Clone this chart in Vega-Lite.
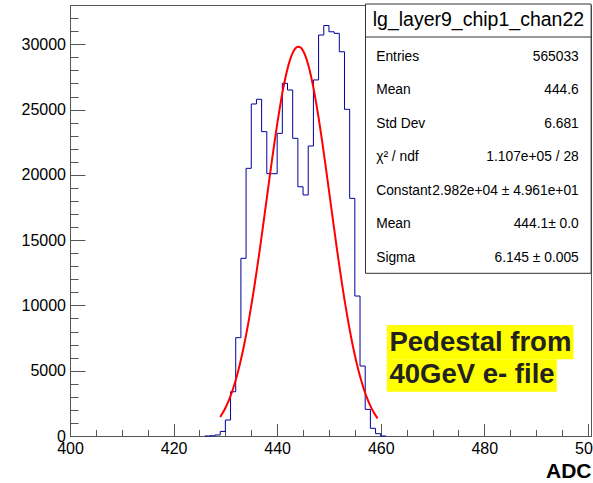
{
  "$schema": "https://vega.github.io/schema/vega-lite/v6.json",
  "width": 521,
  "height": 431,
  "autosize": "none",
  "padding": {"left": 70, "top": 5, "right": 2, "bottom": 47},
  "background": "white",
  "config": {"view": {"stroke": "#555", "strokeWidth": 1}, "font": "Liberation Sans"},
  "resolve": {"axis": {"x": "independent", "y": "independent"}},
  "datasets": {
    "hist": [
      {"adc": 426, "count": 0},
      {"adc": 427, "count": 20}, {"adc": 428, "count": 80}, {"adc": 429, "count": 350},
      {"adc": 430, "count": 1225}, {"adc": 431, "count": 3390}, {"adc": 432, "count": 7530},
      {"adc": 433, "count": 13610}, {"adc": 434, "count": 20500}, {"adc": 435, "count": 25430},
      {"adc": 436, "count": 25790}, {"adc": 437, "count": 23310}, {"adc": 438, "count": 20090},
      {"adc": 439, "count": 20090}, {"adc": 440, "count": 23180}, {"adc": 441, "count": 27010},
      {"adc": 442, "count": 26500}, {"adc": 443, "count": 22800}, {"adc": 444, "count": 19090},
      {"adc": 445, "count": 18460}, {"adc": 446, "count": 22210}, {"adc": 447, "count": 27270},
      {"adc": 448, "count": 30710}, {"adc": 449, "count": 31440}, {"adc": 450, "count": 30960},
      {"adc": 451, "count": 30840}, {"adc": 452, "count": 29430}, {"adc": 453, "count": 25020},
      {"adc": 454, "count": 18200}, {"adc": 455, "count": 10720}, {"adc": 456, "count": 5360},
      {"adc": 457, "count": 2040}, {"adc": 458, "count": 590}, {"adc": 459, "count": 180},
      {"adc": 460, "count": 0}, {"adc": 461, "count": 0}
    ],
    "fit": [
      {"adc": 429.0, "fit": 1456}, {"adc": 429.5, "fit": 1773}, {"adc": 430.0, "fit": 2144},
      {"adc": 430.5, "fit": 2576}, {"adc": 431.0, "fit": 3073}, {"adc": 431.5, "fit": 3643},
      {"adc": 432.0, "fit": 4291}, {"adc": 432.5, "fit": 5020}, {"adc": 433.0, "fit": 5834},
      {"adc": 433.5, "fit": 6735}, {"adc": 434.0, "fit": 7725}, {"adc": 434.5, "fit": 8801},
      {"adc": 435.0, "fit": 9961}, {"adc": 435.5, "fit": 11200}, {"adc": 436.0, "fit": 12509},
      {"adc": 436.5, "fit": 13879}, {"adc": 437.0, "fit": 15297}, {"adc": 437.5, "fit": 16750},
      {"adc": 438.0, "fit": 18219}, {"adc": 438.5, "fit": 19686}, {"adc": 439.0, "fit": 21131},
      {"adc": 439.5, "fit": 22533}, {"adc": 440.0, "fit": 23869}, {"adc": 440.5, "fit": 25118},
      {"adc": 441.0, "fit": 26256}, {"adc": 441.5, "fit": 27267}, {"adc": 442.0, "fit": 28129},
      {"adc": 442.5, "fit": 28826}, {"adc": 443.0, "fit": 29347}, {"adc": 443.5, "fit": 29678},
      {"adc": 444.0, "fit": 29816}, {"adc": 444.5, "fit": 29757}, {"adc": 445.0, "fit": 29502},
      {"adc": 445.5, "fit": 29056}, {"adc": 446.0, "fit": 28428}, {"adc": 446.5, "fit": 27630},
      {"adc": 447.0, "fit": 26678}, {"adc": 447.5, "fit": 25588}, {"adc": 448.0, "fit": 24380},
      {"adc": 448.5, "fit": 23076}, {"adc": 449.0, "fit": 21699}, {"adc": 449.5, "fit": 20269},
      {"adc": 450.0, "fit": 18808}, {"adc": 450.5, "fit": 17336}, {"adc": 451.0, "fit": 15875},
      {"adc": 451.5, "fit": 14441}, {"adc": 452.0, "fit": 13050}, {"adc": 452.5, "fit": 11715},
      {"adc": 453.0, "fit": 10447}, {"adc": 453.5, "fit": 9255}, {"adc": 454.0, "fit": 8145},
      {"adc": 454.5, "fit": 7121}, {"adc": 455.0, "fit": 6184}, {"adc": 455.5, "fit": 5335},
      {"adc": 456.0, "fit": 4573}, {"adc": 456.5, "fit": 3893}, {"adc": 457.0, "fit": 3291},
      {"adc": 457.5, "fit": 2766}, {"adc": 458.0, "fit": 2308}, {"adc": 458.5, "fit": 1914},
      {"adc": 459.0, "fit": 1577}, {"adc": 459.4, "fit": 1345}
    ],
    "stats": [
      {"k": "Entries", "v": "565033", "yv": 28758},
      {"k": "Mean", "v": "444.6", "yv": 26193},
      {"k": "Std Dev", "v": "6.681", "yv": 23619},
      {"k": "χ² / ndf", "v": "1.107e+05 / 28", "yv": 21046},
      {"k": "Constant", "v": "2.982e+04 ± 4.961e+01", "yv": 18473},
      {"k": "Mean", "v": "444.1± 0.0", "yv": 15900},
      {"k": "Sigma", "v": "6.145 ± 0.005", "yv": 13326}
    ],
    "note": [
      {"t": "Pedestal from", "x1": 461.17, "x2": 497.22, "y1": 8501, "y2": 5874, "tx": 461.69, "ty": 6533},
      {"t": "40GeV e- file", "x1": 461.17, "x2": 493.99, "y1": 5874, "y2": 3393, "tx": 461.69, "ty": 4036}
    ]
  },
  "layer": [
    {
      "data": {"name": "hist"},
      "mark": {"type": "line", "interpolate": "step-after", "color": "#000099", "strokeWidth": 1},
      "encoding": {
        "x": {
          "field": "adc", "type": "quantitative",
          "scale": {"domain": [400, 500.6], "nice": false, "zero": false},
          "axis": {
            "orient": "bottom",
            "title": "ADC",
            "values": [400, 420, 440, 460, 480, 500],
            "format": "d",
            "tickSize": -12.5,
            "labelPadding": 16.5,
            "labelFontSize": 16,
            "labelColor": "#000",
            "labelFlush": false,
            "labelOverlap": false,
            "domainColor": "#555",
            "tickColor": "#555",
            "grid": false,
            "titleFontSize": 21,
            "titleFontWeight": "bold",
            "titleColor": "#000",
            "titleAnchor": "end",
            "titlePadding": 4
          }
        },
        "y": {
          "field": "count", "type": "quantitative",
          "scale": {"domain": [0, 33010], "nice": false},
          "axis": {
            "orient": "left",
            "title": null,
            "values": [0, 5000, 10000, 15000, 20000, 25000, 30000],
            "format": "d",
            "tickSize": -15,
            "labelPadding": 19.5,
            "labelFontSize": 16,
            "labelColor": "#000",
            "labelFlush": false,
            "labelOverlap": false,
            "domainColor": "#555",
            "tickColor": "#555",
            "grid": false
          }
        }
      }
    },
    {
      "data": {"name": "fit"},
      "mark": {"type": "line", "color": "#ff0000", "strokeWidth": 2, "interpolate": "monotone"},
      "encoding": {
        "x": {
          "field": "adc", "type": "quantitative",
          "axis": {
            "orient": "bottom", "title": null, "labels": false, "domain": false, "grid": false,
            "values": [405,410,415,425,430,435,445,450,455,465,470,475,485,490,495],
            "tickSize": -6.5, "tickColor": "#555"
          }
        },
        "y": {
          "field": "fit", "type": "quantitative",
          "axis": {
            "orient": "left", "title": null, "labels": false, "domain": false, "grid": false,
            "values": [1000,2000,3000,4000,6000,7000,8000,9000,11000,12000,13000,14000,16000,17000,18000,19000,21000,22000,23000,24000,26000,27000,28000,29000,31000,32000,33000],
            "tickSize": -8, "tickColor": "#555"
          }
        }
      }
    },
    {
      "data": {"name": "note"},
      "mark": {"type": "rect", "fill": "#ffff00"},
      "encoding": {
        "x": {"field": "x1", "type": "quantitative", "axis": null},
        "x2": {"field": "x2"},
        "y": {"field": "y1", "type": "quantitative", "axis": null},
        "y2": {"field": "y2"}
      }
    },
    {
      "data": {"name": "note"},
      "mark": {"type": "text", "align": "left", "baseline": "alphabetic", "fontSize": 27.5, "fontWeight": "bold", "color": "#222", "font": "Liberation Sans"},
      "encoding": {
        "x": {"field": "tx", "type": "quantitative", "axis": null},
        "y": {"field": "ty", "type": "quantitative", "axis": null},
        "text": {"field": "t"}
      }
    },
    {
      "data": {"values": [{"x1": 457.06, "x2": 500.62, "y1": 33085, "y2": 12461}]},
      "mark": {"type": "rect", "fill": "white", "stroke": "#333", "strokeWidth": 1},
      "encoding": {
        "x": {"field": "x1", "type": "quantitative", "axis": null},
        "x2": {"field": "x2"},
        "y": {"field": "y1", "type": "quantitative", "axis": null},
        "y2": {"field": "y2"}
      }
    },
    {
      "data": {"values": [{"x1": 457.06, "x2": 500.62, "y": 30558}]},
      "mark": {"type": "rule", "color": "#333", "strokeWidth": 1},
      "encoding": {
        "x": {"field": "x1", "type": "quantitative", "axis": null},
        "x2": {"field": "x2"},
        "y": {"field": "y", "type": "quantitative", "axis": null}
      }
    },
    {
      "data": {"values": [{"t": "lg_layer9_chip1_chan22", "x": 478.86, "y": 31394}]},
      "mark": {"type": "text", "align": "center", "baseline": "alphabetic", "fontSize": 19.5, "color": "#000", "font": "Liberation Sans"},
      "encoding": {
        "x": {"field": "x", "type": "quantitative", "axis": null},
        "y": {"field": "y", "type": "quantitative", "axis": null},
        "text": {"field": "t"}
      }
    },
    {
      "data": {"name": "stats"},
      "mark": {"type": "text", "align": "left", "baseline": "alphabetic", "fontSize": 13.8, "color": "#000", "font": "Liberation Sans"},
      "encoding": {
        "x": {"datum": 459.12, "type": "quantitative", "axis": null},
        "y": {"field": "yv", "type": "quantitative", "axis": null},
        "text": {"field": "k"}
      }
    },
    {
      "data": {"name": "stats"},
      "mark": {"type": "text", "align": "right", "baseline": "alphabetic", "fontSize": 13.8, "color": "#000", "font": "Liberation Sans"},
      "encoding": {
        "x": {"datum": 498.24, "type": "quantitative", "axis": null},
        "y": {"field": "yv", "type": "quantitative", "axis": null},
        "text": {"field": "v"}
      }
    }
  ]
}
